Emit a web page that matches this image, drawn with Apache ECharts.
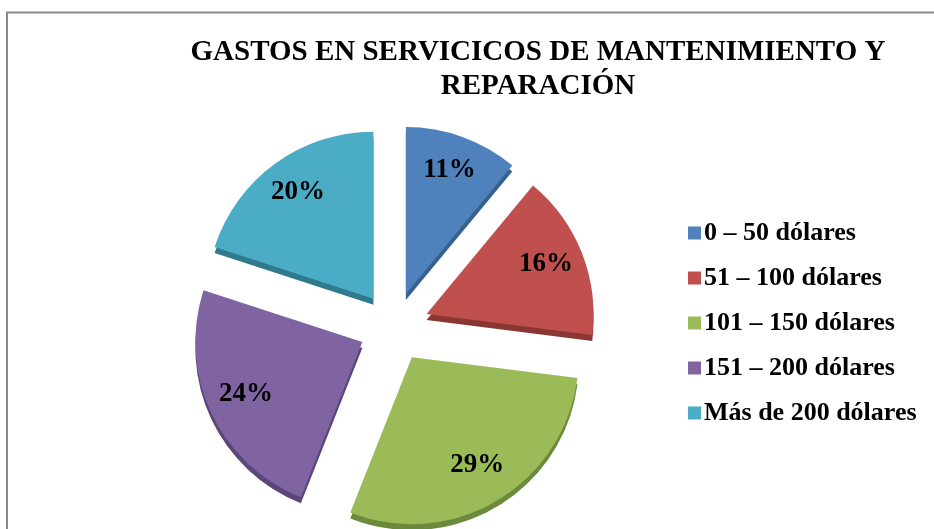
<html>
<head>
    <title></title>
    <meta charset="utf-8">
    <script src="https://cdn.jsdelivr.net/npm/echarts@6/dist/echarts.min.js" type="text/javascript"></script>
</head>
<body style="margin:0">
    <div id="main" style="width: 934px; height: 529px"></div>
    <script>
        var categories = ['0 – 50 dólares', '51 – 100 dólares', '101 – 150 dólares', '151 – 200 dólares', 'Más de 200 dólares'];
        var percents = [11, 16, 29, 24, 20];
        var colors = ['#4F81BD', '#C0504D', '#9BBB59', '#8064A2', '#4BACC6'];
        var sideColors = ['#37608f', '#8a3633', '#6c8a3b', '#5a4679', '#2f7a8d'];
        var titleText = 'GASTOS EN SERVICICOS DE MANTENIMIENTO Y\nREPARACIÓN';

        var font = '"Liberation Serif", "Times New Roman", serif';
        var cx = 394, cy = 327, R = 167, explode = 35;

        function makeData(cols) {
            var arr = [];
            for (var i = 0; i < categories.length; i++) {
                arr.push({
                    name: categories[i],
                    value: percents[i],
                    selected: true,
                    itemStyle: { color: cols ? cols[i] : 'rgba(0,0,0,0)' }
                });
            }
            return arr;
        }

        var myChart = echarts.init(document.getElementById('main'));
        var option = {
            animation: false,
            color: colors,
            graphic: [
                {
                    type: 'rect',
                    shape: { x: 7, y: 12.5, width: 1000, height: 600 },
                    style: { fill: 'none', stroke: '#8a8a8a', lineWidth: 2 },
                    z: -10
                },
                {
                    type: 'text',
                    x: 538,
                    y: 36,
                    style: {
                        text: titleText,
                        align: 'center',
                        verticalAlign: 'top',
                        fontFamily: font,
                        fontWeight: 'bold',
                        fontSize: 29,
                        lineHeight: 34,
                        fill: '#000'
                    }
                }
            ],
            legend: {
                orient: 'vertical',
                left: 683,
                top: 215,
                icon: 'rect',
                itemWidth: 13,
                itemHeight: 13,
                itemGap: 19,
                selectedMode: false,
                data: categories,
                textStyle: {
                    fontFamily: font,
                    fontWeight: 'bold',
                    fontSize: 26,
                    lineHeight: 26,
                    color: '#000',
                    padding: [0, 0, 0, -2]
                }
            },
            series: [
                {
                    type: 'pie',
                    z: 3,
                    center: [cx, cy],
                    radius: [0, R],
                    startAngle: 90,
                    selectedMode: 'multiple',
                    selectedOffset: explode,
                    silent: true,
                    label: { show: false },
                    labelLine: { show: false },
                    emphasis: { disabled: true },
                    data: makeData(colors)
                },
                {
                    // side of the slices, drawn below
                    type: 'pie',
                    z: 2,
                    center: [cx, cy + 6],
                    radius: [0, R],
                    startAngle: 90,
                    selectedMode: 'multiple',
                    selectedOffset: explode,
                    silent: true,
                    label: { show: false },
                    labelLine: { show: false },
                    emphasis: { disabled: true },
                    data: makeData(sideColors)
                },
                {
                    // labels placed out toward the rim
                    type: 'pie',
                    z: 4,
                    center: [cx, cy - 3],
                    radius: [84, R],
                    startAngle: 90,
                    selectedMode: 'multiple',
                    selectedOffset: explode,
                    silent: true,
                    label: {
                        show: true,
                        position: 'inside',
                        formatter: '{c}%',
                        fontFamily: font,
                        fontWeight: 'bold',
                        fontSize: 27,
                        color: '#000'
                    },
                    labelLine: { show: false },
                    emphasis: { disabled: true },
                    data: makeData(null)
                }
            ]
        };
        myChart.setOption(option);
    </script>
</body>
</html>
